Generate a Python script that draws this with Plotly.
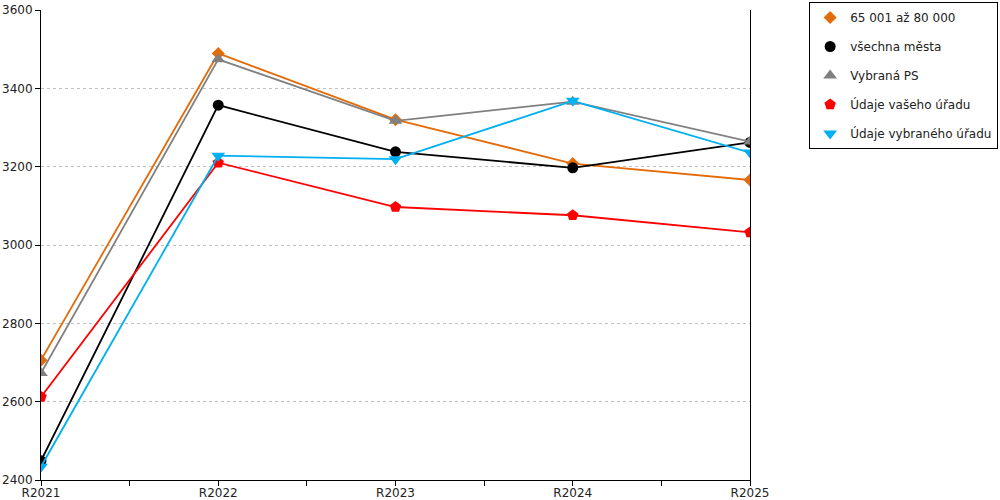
import plotly.graph_objects as go

# data
years = ["R2021", "R2022", "R2023", "R2024", "R2025"]

s_65k = [2706, 3489, 3320, 3208, 3166]
s_all = [2449, 3357, 3238, 3197, 3262]
s_ps = [2673, 3474, 3317, 3366, 3264]
s_vas = [2612, 3210, 3097, 3076, 3032]
s_vybr = [2434, 3228, 3219, 3368, 3236]

series = [
    ("65 001 až 80 000", s_65k, "#E36C0A", "diamond", 10),
    ("všechna města", s_all, "#000000", "circle", 11),
    ("Vybraná PS", s_ps, "#808080", "triangle-up", 12),
    ("Údaje vašeho úřadu", s_vas, "#FF0000", "pentagon", 12),
    ("Údaje vybraného úřadu", s_vybr, "#00B0F0", "triangle-down", 12),
]

xpos = list(range(len(years)))

fig = go.Figure()
for name, vals, color, sym, size in series:
    # line + markers, legend entry drawn separately (markers only)
    fig.add_trace(go.Scatter(
        x=xpos, y=vals, mode="lines+markers", name=name,
        line=dict(color=color, width=1.8),
        marker=dict(symbol=sym, size=size, color=color),
        legendgroup=name, showlegend=False,
    ))
    fig.add_trace(go.Scatter(
        x=[None], y=[None], mode="markers", name=name,
        marker=dict(symbol=sym, size=size, color=color),
        legendgroup=name, showlegend=True,
    ))

tickvals = [i * 0.5 for i in range(2 * len(years) - 1)]
ticktext = [years[int(v)] if v == int(v) else "" for v in tickvals]

fig.update_xaxes(
    range=[0, len(years) - 1],
    tickvals=tickvals, ticktext=ticktext,
    ticks="outside", ticklen=5, tickcolor="black",
    showline=True, linecolor="black", linewidth=1,
    showgrid=False, zeroline=False, automargin=False,
    ticklabelstandoff=-3,
    tickfont=dict(size=12, color="#222"),
)
fig.update_yaxes(
    range=[2400, 3600], dtick=200,
    ticks="outside", ticklen=5, tickcolor="black",
    showline=True, linecolor="black", linewidth=1, mirror=True,
    showgrid=True, gridcolor="#C0C0C0", gridwidth=1, griddash="3px,3px",
    zeroline=False, automargin=False,
    tickfont=dict(size=12, color="#222"),
)

fig.update_layout(
    width=1000, height=500,
    margin=dict(l=41, r=250, t=10, b=20, autoexpand=False),
    paper_bgcolor="white", plot_bgcolor="white",
    font=dict(family="DejaVu Sans", size=12, color="#222"),
    legend=dict(
        x=1.35, xanchor="right", y=1.017, yanchor="top",
        bordercolor="black", borderwidth=1,
        font=dict(size=12, color="#222"),
        traceorder="grouped", tracegroupgap=10,
        itemwidth=30,
    ),
    showlegend=True,
)

# page has a default 8px body margin; drop it so the figure sits at 0,0
fig.write_html("out.html", config={"displayModeBar": False},
               post_script="document.body.style.margin='0';")
